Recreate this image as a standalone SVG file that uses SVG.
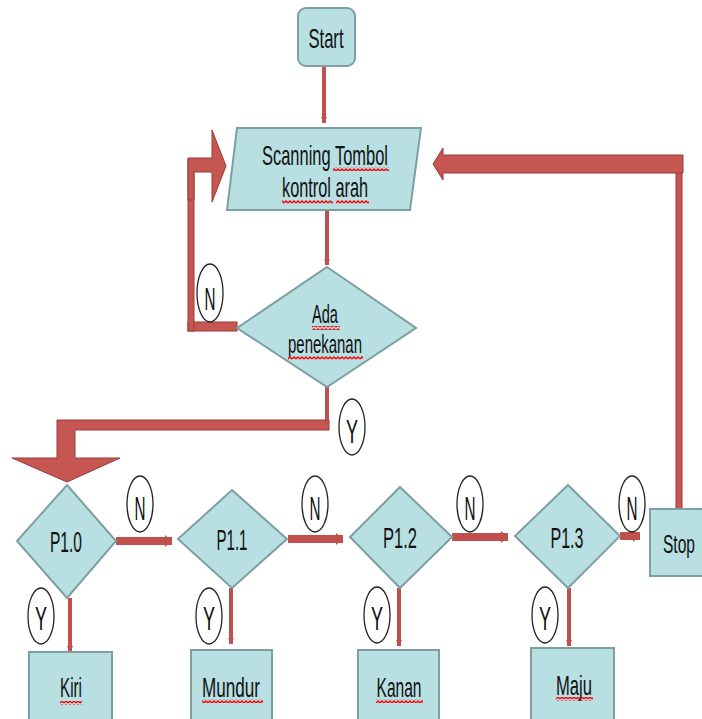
<svg xmlns="http://www.w3.org/2000/svg" width="702" height="719" viewBox="0 0 702 719">
<style>
.box{fill:#b8dfe2;stroke:#7e9fa1;stroke-width:2}
.t{font-family:"Liberation Sans",Arial,sans-serif;fill:#111;text-anchor:middle}
.thin{stroke:#c0504d;stroke-width:4;fill:none;marker-end:url(#ah)}
.thick{stroke:#c0504d;stroke-width:8;fill:none;marker-end:url(#ahb)}
.blk{fill:#c55652;stroke:#9b3a37;stroke-width:1}
.lbl{fill:#fff;stroke:#222;stroke-width:1.3}
.sq{fill:url(#sq)}
</style>
<defs>
<marker id="ah" markerUnits="userSpaceOnUse" markerWidth="10" markerHeight="10" refX="6" refY="5" orient="auto">
<path d="M0,2 L6,5 L0,8 Z" fill="#c0504d"/>
</marker>
<marker id="ahb" markerUnits="userSpaceOnUse" markerWidth="12" markerHeight="16" refX="7" refY="8" orient="auto">
<path d="M0,2 L7,8 L0,14 Z" fill="#c0504d"/>
</marker>
<pattern id="sq" width="4" height="4" patternUnits="userSpaceOnUse">
<path d="M0,3 L2,1 L4,3" stroke="#ff0000" stroke-width="1.4" fill="none"/>
</pattern>
</defs>

<g id="connectors">
<path class="thin" d="M324,66 V123"/>
<path class="thin" d="M327,210 V265"/>
<rect class="blk" x="188" y="322" width="49" height="9"/>
<rect class="blk" x="188" y="160" width="6" height="171"/>
<polygon class="blk" points="188,158 212,158 212,130 226,166 212,202 212,172 194,172 194,200 188,200"/>
<path d="M327,387 V428" stroke="#c0504d" stroke-width="4"/>
<polygon class="blk" points="57,420 329,420 329,430 75,430 75,458 120,458 67,482 12,458 57,458"/>
<rect class="blk" x="676" y="160" width="6" height="353"/>
<polygon class="blk" points="683,155 683,173 443,173 443,180 433,164 443,148 443,155"/>
<path class="thick" d="M116,541 H172"/>
<path class="thick" d="M288,539 H343"/>
<path class="thick" d="M452,537 H508"/>
<path class="thick" d="M620,536 H640"/>
<path class="thin" d="M70,598 V652"/>
<path class="thin" d="M231,588 V644"/>
<path class="thin" d="M399,588 V646"/>
<path class="thin" d="M569,588 V646"/>
</g>

<g id="start">
<rect class="box" x="298" y="8" width="57" height="58" rx="8"/>
<text class="t" x="326" y="48" font-size="28" textLength="35" lengthAdjust="spacingAndGlyphs">Start</text>
</g>
<g id="scanning">
<polygon class="box" points="237,128 421,128 410,210 227,210"/>
<text class="t" x="325" y="165" font-size="28" textLength="126" lengthAdjust="spacingAndGlyphs">Scanning Tombol</text>
<text class="t" x="325" y="197" font-size="28" textLength="86" lengthAdjust="spacingAndGlyphs">kontrol arah</text>
<rect class="sq" x="333" y="167" width="56" height="4"/>
<rect class="sq" x="282" y="200" width="51" height="4"/>
<rect class="sq" x="336" y="200" width="33" height="4"/>
</g>
<g id="ada">
<polygon class="box" points="327,267 416,328 327,387 237,328"/>
<text class="t" x="325" y="323" font-size="25" textLength="26" lengthAdjust="spacingAndGlyphs">Ada</text>
<text class="t" x="325" y="353" font-size="25" textLength="74" lengthAdjust="spacingAndGlyphs">penekanan</text>
<rect class="sq" x="312" y="326" width="28" height="4"/>
<rect class="sq" x="288" y="356" width="75" height="4"/>
</g>
<g id="p10">
<polygon class="box" points="67,485 116,541 67,598 17,541"/>
<text class="t" x="66" y="552" font-size="29" textLength="32" lengthAdjust="spacingAndGlyphs">P1.0</text>
</g>
<g id="p11">
<polygon class="box" points="232,490 287,539 232,588 178,539"/>
<text class="t" x="232" y="550" font-size="29" textLength="31" lengthAdjust="spacingAndGlyphs">P1.1</text>
</g>
<g id="p12">
<polygon class="box" points="400,487 452,537 400,588 350,537"/>
<text class="t" x="400" y="548" font-size="29" textLength="34" lengthAdjust="spacingAndGlyphs">P1.2</text>
</g>
<g id="p13">
<polygon class="box" points="568,485 620,536 568,588 515,536"/>
<text class="t" x="567" y="548" font-size="29" textLength="33" lengthAdjust="spacingAndGlyphs">P1.3</text>
</g>
<g id="stop">
<rect class="box" x="650" y="509" width="60" height="67"/>
<text class="t" x="679" y="553" font-size="25" textLength="32" lengthAdjust="spacingAndGlyphs">Stop</text>
</g>
<g id="kiri">
<rect class="box" x="29" y="652" width="83" height="72"/>
<text class="t" x="71" y="697" font-size="28" textLength="22" lengthAdjust="spacingAndGlyphs">Kiri</text>
<rect class="sq" x="60" y="701" width="22" height="4"/>
</g>
<g id="mundur">
<rect class="box" x="191" y="650" width="81" height="74"/>
<text class="t" x="231" y="697" font-size="28" textLength="58" lengthAdjust="spacingAndGlyphs">Mundur</text>
<rect class="sq" x="202" y="699" width="61" height="4"/>
</g>
<g id="kanan">
<rect class="box" x="358" y="650" width="81" height="74"/>
<text class="t" x="399" y="697" font-size="28" textLength="45" lengthAdjust="spacingAndGlyphs">Kanan</text>
<rect class="sq" x="376" y="699" width="47" height="4"/>
</g>
<g id="maju">
<rect class="box" x="531" y="648" width="83" height="76"/>
<text class="t" x="574" y="695" font-size="28" textLength="36" lengthAdjust="spacingAndGlyphs">Maju</text>
<rect class="sq" x="556" y="697" width="37" height="4"/>
</g>

<g id="labels">
<ellipse class="lbl" cx="210" cy="293" rx="13" ry="29"/>
<text class="t" x="210" y="310" font-size="32" textLength="11" lengthAdjust="spacingAndGlyphs">N</text>
<ellipse class="lbl" cx="352" cy="427" rx="13" ry="28"/>
<text class="t" x="352" y="443" font-size="34" textLength="12" lengthAdjust="spacingAndGlyphs">Y</text>
<ellipse class="lbl" cx="140" cy="504" rx="13" ry="28"/>
<text class="t" x="140" y="520" font-size="34" textLength="11" lengthAdjust="spacingAndGlyphs">N</text>
<ellipse class="lbl" cx="315" cy="504" rx="13" ry="28"/>
<text class="t" x="315" y="520" font-size="34" textLength="11" lengthAdjust="spacingAndGlyphs">N</text>
<ellipse class="lbl" cx="470" cy="504" rx="13" ry="28"/>
<text class="t" x="470" y="520" font-size="34" textLength="11" lengthAdjust="spacingAndGlyphs">N</text>
<ellipse class="lbl" cx="632" cy="504" rx="13" ry="28"/>
<text class="t" x="632" y="520" font-size="34" textLength="11" lengthAdjust="spacingAndGlyphs">N</text>
<ellipse class="lbl" cx="41" cy="616" rx="13" ry="28"/>
<text class="t" x="41" y="630" font-size="34" textLength="12" lengthAdjust="spacingAndGlyphs">Y</text>
<ellipse class="lbl" cx="209" cy="616" rx="13" ry="28"/>
<text class="t" x="209" y="630" font-size="34" textLength="12" lengthAdjust="spacingAndGlyphs">Y</text>
<ellipse class="lbl" cx="377" cy="615" rx="13" ry="28"/>
<text class="t" x="377" y="630" font-size="34" textLength="12" lengthAdjust="spacingAndGlyphs">Y</text>
<ellipse class="lbl" cx="545" cy="615" rx="13" ry="28"/>
<text class="t" x="545" y="630" font-size="34" textLength="12" lengthAdjust="spacingAndGlyphs">Y</text>
</g>
</svg>
